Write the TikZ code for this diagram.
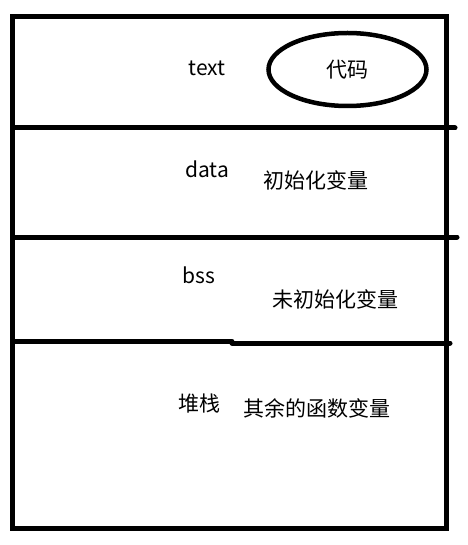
\documentclass[tikz,border=0pt]{standalone}
\usepackage{fontspec}
\setmainfont{Noto Sans CJK SC}
\usetikzlibrary{shapes.geometric}
\begin{document}
\begin{tikzpicture}[x=1pt,y=-1pt,
  frame/.style={draw=black,line width=5pt},
  divider/.style={draw=black,line width=5pt,line cap=round},
  lbl/.style={inner sep=0pt,font=\fontsize{21pt}{24pt}\selectfont},
  oval/.style={ellipse,draw=black,line width=4.5pt,minimum width=158pt,minimum height=73pt,inner sep=0pt,font=\fontsize{21pt}{24pt}\selectfont}]
\useasboundingbox (0,0) rectangle (467,545);
\fill[white] (0,0) rectangle (467,545);
\draw[frame] (12.5,16.5) rectangle (446.5,528.5);
\coordinate (d1l) at (12.5,128);
\coordinate (d1r) at (455,128);
\coordinate (d2l) at (12.5,237);
\coordinate (d2r) at (457,237);
\coordinate (d3l) at (12.5,341.5);
\coordinate (d3m) at (232,341.5);
\coordinate (d3n) at (232,343);
\coordinate (d3r) at (450,343);
\draw[divider] (d1l) -- (d1r);
\draw[divider] (d2l) -- (d2r);
\draw[divider] (d3l) -- (d3m);
\draw[divider] (d3n) -- (d3r);
\node[lbl] (text) at (207,68) {text};
\node[oval] (code) at (347.5,69.5) {代码};
\node[lbl] (data) at (207,169) {data};
\node[lbl] (init) at (316,180) {初始化变量};
\node[lbl] (bss) at (199,275) {bss};
\node[lbl] (uninit) at (335,299) {未初始化变量};
\node[lbl] (stack) at (199,404) {堆栈};
\node[lbl] (rest) at (317,408) {其余的函数变量};
\end{tikzpicture}
\end{document}
